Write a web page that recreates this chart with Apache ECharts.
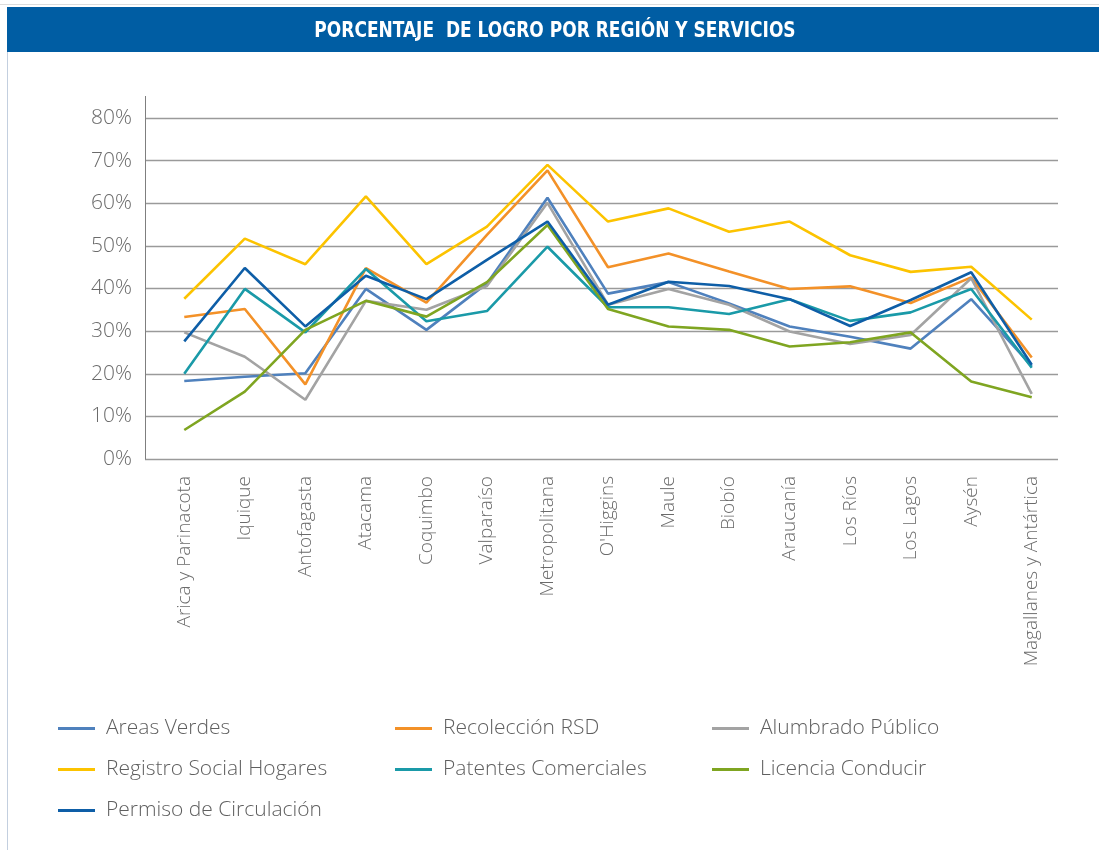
<!DOCTYPE html>
<html>
<head>
<meta charset="utf-8">
<title>Porcentaje de logro por región y servicios</title>
<script src="https://cdn.jsdelivr.net/npm/echarts@6/dist/echarts.min.js"></script>
<style>
  html, body { margin: 0; padding: 0; background: #ffffff; }
  #chart { width: 1099px; height: 850px; }
</style>
</head>
<body>
<div id="chart"></div>
<script>
// Regions along the category axis
const regions = [
  'Arica y Parinacota', 'Iquique', 'Antofagasta', 'Atacama', 'Coquimbo',
  'Valparaíso', 'Metropolitana', "O'Higgins", 'Maule', 'Biobío',
  'Araucanía', 'Los Ríos', 'Los Lagos', 'Aysén', 'Magallanes y Antártica'
];

// Achievement percentage per service and region
const areasVerdes      = [18.3, 19.3, 20.1, 39.9, 30.3, 41.2, 61.3, 38.8, 41.5, 36.5, 31.1, 28.7, 25.9, 37.5, 21.8];
const recoleccionRSD   = [33.3, 35.2, 17.5, 44.8, 36.7, 52.6, 67.7, 45.0, 48.2, 44.0, 39.9, 40.5, 36.6, 42.6, 23.8];
const alumbradoPublico = [29.7, 24.0, 13.9, 37.1, 35.0, 40.6, 60.1, 36.2, 39.9, 36.2, 29.9, 27.0, 29.1, 42.4, 15.3];
const registroSocial   = [37.6, 51.7, 45.7, 61.6, 45.7, 54.5, 69.0, 55.7, 58.8, 53.3, 55.7, 47.8, 43.9, 45.1, 32.7];
const patentes         = [20.0, 39.9, 29.7, 44.6, 32.3, 34.7, 49.8, 35.6, 35.6, 34.0, 37.5, 32.4, 34.4, 39.9, 21.4];
const licencia         = [ 6.8, 15.8, 30.3, 37.1, 33.4, 41.5, 54.9, 35.2, 31.1, 30.3, 26.4, 27.4, 29.7, 18.2, 14.5];
const permiso          = [27.6, 44.8, 31.1, 43.0, 37.5, 46.7, 55.7, 36.2, 41.6, 40.6, 37.5, 31.2, 37.3, 43.8, 22.1];

// Y axis scale
const yMin = 0;
const yMax = 80;
const yStep = 10;

const seriesDefs = [
  { name: 'Areas Verdes',            data: areasVerdes,      color: '#4f81bd' },
  { name: 'Recolección RSD',         data: recoleccionRSD,   color: '#f39128' },
  { name: 'Alumbrado Público',       data: alumbradoPublico, color: '#a3a3a3' },
  { name: 'Registro Social Hogares', data: registroSocial,   color: '#fcc300' },
  { name: 'Patentes Comerciales',    data: patentes,         color: '#1a9aa8' },
  { name: 'Licencia Conducir',       data: licencia,         color: '#7fa521' },
  { name: 'Permiso de Circulación',  data: permiso,          color: '#0e5ea7' }
];

const labelFont = "'Open Sans', 'Noto Sans', sans-serif";
const labelColor = '#6b6b6b';

const legendBase = {
  orient: 'vertical',
  top: 718,
  padding: 0,
  icon: 'rect',
  itemWidth: 37,
  itemHeight: 3,
  itemGap: 20,
  selectedMode: true,
  textStyle: {
    fontFamily: labelFont,
    fontWeight: 300,
    fontSize: 21,
    lineHeight: 20,
    color: '#5f5f5f',
    padding: [0, 0, 0, 6]
  }
};

const chart = echarts.init(document.getElementById('chart'), null, { renderer: 'canvas' });

chart.setOption({
  backgroundColor: '#ffffff',
  animation: false,
  graphic: [
    // thin rule above the header band
    { type: 'rect', shape: { x: 0, y: 4, width: 1099, height: 1 }, style: { fill: '#dcdcdc' }, silent: true },
    // header band
    { type: 'rect', shape: { x: 7, y: 7, width: 1092, height: 45 }, style: { fill: '#005da3' }, silent: true },
    {
      type: 'text', x: 555, y: 31, scaleX: 0.86,
      style: {
        text: 'PORCENTAJE  DE LOGRO POR REGIÓN Y SERVICIOS',
        fill: '#ffffff',
        font: "bold 22px 'Liberation Sans Narrow', 'DejaVu Sans Condensed', sans-serif",
        align: 'center', verticalAlign: 'middle'
      },
      silent: true
    },
    // panel left border
    { type: 'rect', shape: { x: 7, y: 52, width: 1, height: 798 }, style: { fill: '#c3cfdf' }, silent: true },
    // y axis line extends a little above the top gridline
    { type: 'line', shape: { x1: 145.5, y1: 96, x2: 145.5, y2: 118 }, style: { stroke: '#7f7f7f', lineWidth: 1 }, silent: true }
  ],
  grid: [
    { left: 145, right: 41, top: 118, bottom: 391, containLabel: false },
    { left: 154, right: 37, top: 118, bottom: 391, containLabel: false }
  ],
  xAxis: [
    { type: 'value', gridIndex: 0, show: false, min: 0, max: 1 },
    {
      type: 'category',
      gridIndex: 1,
      data: regions,
      boundaryGap: true,
      axisLine: { show: false },
      axisTick: { show: false },
      axisLabel: {
        rotate: 90,
        margin: 17,
        interval: 0,
        fontFamily: labelFont,
        fontWeight: 300,
        fontSize: 19,
        color: labelColor
      }
    }
  ],
  yAxis: [
    {
      type: 'value',
      gridIndex: 0,
      min: yMin, max: yMax, interval: yStep,
      axisLine: { show: true, lineStyle: { color: '#7f7f7f', width: 1 } },
      axisTick: { show: false },
      splitLine: { show: true, lineStyle: { color: '#9a9a9a', width: 1.4 } },
      axisLabel: {
        formatter: '{value}%',
        margin: 13,
        fontFamily: labelFont,
        fontWeight: 300,
        fontSize: 21,
        color: labelColor
      }
    },
    { type: 'value', gridIndex: 1, min: yMin, max: yMax, interval: yStep, show: false }
  ],
  legend: [
    Object.assign({}, legendBase, { left: 58,  data: ['Areas Verdes', 'Registro Social Hogares', 'Permiso de Circulación'] }),
    Object.assign({}, legendBase, { left: 395, data: ['Recolección RSD', 'Patentes Comerciales'] }),
    Object.assign({}, legendBase, { left: 712, data: ['Alumbrado Público', 'Licencia Conducir'] })
  ],
  series: seriesDefs.map(s => ({
    name: s.name,
    type: 'line',
    xAxisIndex: 1,
    yAxisIndex: 1,
    data: s.data,
    symbol: 'none',
    smooth: false,
    color: s.color,
    lineStyle: { color: s.color, width: 2.6 },
    itemStyle: { color: s.color },
    emphasis: { disabled: true }
  }))
});
</script>
</body>
</html>
